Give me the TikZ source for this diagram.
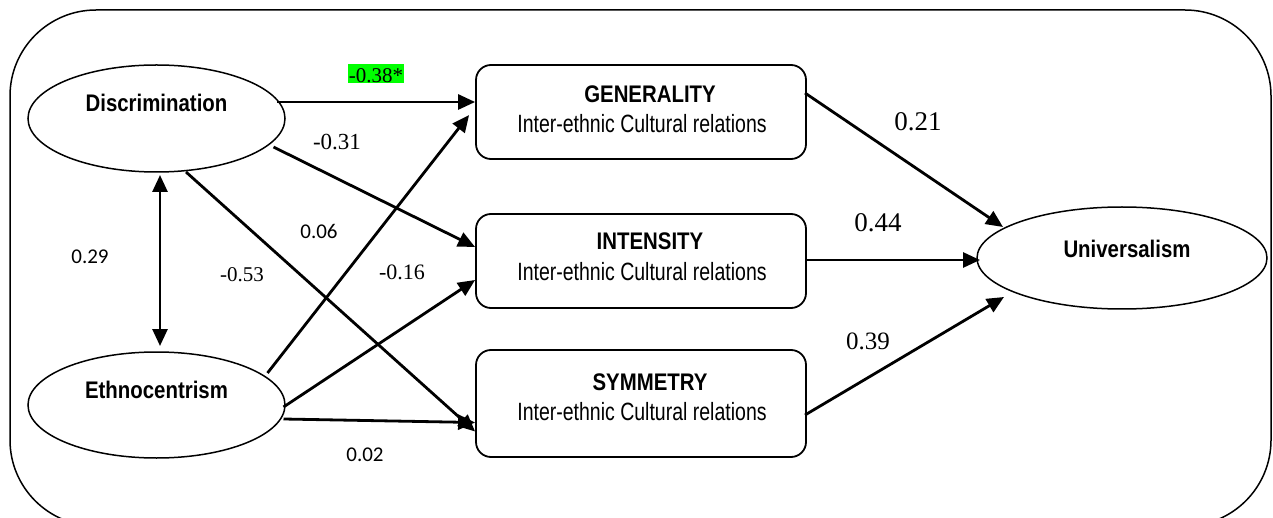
\documentclass[tikz,border=0pt]{standalone}
\usepackage{fontspec}
\setmainfont{Liberation Serif}
\newfontfamily\arfont[FakeStretch=0.78]{Liberation Sans}
\newfontfamily\arbfont[FakeStretch=0.85]{Liberation Sans}
\newfontfamily\calfont{Carlito}
\usetikzlibrary{arrows.meta,shapes.geometric,calc}
\definecolor{hl}{RGB}{0,255,0}
\tikzset{
  lat/.style={draw, ellipse, line width=1.5pt, inner sep=0pt},
  boxnode/.style={draw, rounded corners=15pt, line width=1.8pt, inner sep=0pt, minimum width=330pt},
  ttl/.style={font=\arbfont\bfseries\fontsize{24}{28}\selectfont, anchor=base, inner sep=0pt},
  sub/.style={font=\arfont\fontsize{25}{29}\selectfont, anchor=base, inner sep=0pt},
  pth/.style={line width=2.8pt, -{Triangle[length=17pt,width=15pt]}},
  dbl/.style={line width=2.8pt, {Triangle[length=17pt,width=15pt]}-{Triangle[length=17pt,width=15pt]}},
  serlab/.style={font=\fontsize{#1}{#1}\selectfont, inner sep=0pt},
  sanslab/.style={font=\calfont\fontsize{21}{21}\selectfont, inner sep=0pt},
}
\begin{document}
\begin{tikzpicture}[x=1pt,y=-1pt]
\useasboundingbox (0,0) rectangle (1273,518);
\clip (0,0) rectangle (1273,518);
% outer frame
\draw[line width=1.5pt, rounded corners=86pt] (10,10) rectangle (1271,526);

% latent variables
\node[lat, minimum width=257pt, minimum height=107pt] (disc) at (156.5,118.5) {};
\node[lat, minimum width=257pt, minimum height=106pt] (eth) at (156.5,405) {};
\node[lat, minimum width=290pt, minimum height=102pt] (uni) at (1122,258) {};
\node[ttl] (discT) at (156.5,112) {Discrimination};
\node[ttl] (ethT) at (156.5,398) {Ethnocentrism};
\node[ttl] (uniT) at (1127,258) {Universalism};

% boxes
\node[boxnode, minimum height=94pt] (gen) at (641,112) {};
\node[boxnode, minimum height=94pt] (int) at (641,261) {};
\node[boxnode, minimum height=107pt] (sym) at (641,403.5) {};
\node[ttl] (genT) at (650,103) {GENERALITY};
\node[sub] (genS) at (642,133) {Inter-ethnic Cultural relations};
\node[ttl] (intT) at (650,250) {INTENSITY};
\node[sub] (intS) at (642,281) {Inter-ethnic Cultural relations};
\node[ttl] (symT) at (650,390) {SYMMETRY};
\node[sub] (symS) at (642,420) {Inter-ethnic Cultural relations};

% paths from Discrimination
\draw[pth] ($(disc.center)+(120.5,-16.5)$) -- ($(gen.west)+(0,-10)$);
\draw[pth] ($(disc.center)+(117,28.5)$) -- ($(int.west)+(0,-14)$);
\draw[pth] ($(disc.center)+(29.5,53.5)$) -- ($(sym.west)+(0,28)$);
% paths from Ethnocentrism
\draw[pth] ($(eth.center)+(111,-32)$) -- ($(gen.west)+(-6,3)$);
\draw[pth] ($(eth.center)+(127,2)$) -- ($(int.west)+(0,19)$);
\draw[pth] ($(eth.center)+(127,14)$) -- ($(sym.west)+(0,19)$);
% correlation
\draw[dbl] ($(disc.center)+(3.5,56.5)$) -- ($(eth.center)+(3.5,-59)$);
% paths to Universalism
\draw[pth] ($(gen.center)+(164,-19)$) -- ($(uni.center)+(-119,-31)$);
\draw[pth] ($(int.center)+(165,-1)$) -- ($(uni.center)+(-142,2)$);
\draw[pth] ($(sym.center)+(164,11.5)$) -- ($(uni.center)+(-118,39)$);

% coefficients
\node[fill=hl, inner xsep=1pt, inner ysep=0pt, text height=19pt, text depth=0pt,
      font=\fontsize{21}{21}\selectfont, anchor=base] (l38) at (376,83) {-0.38*};
\node[serlab=23] (l31) at (337,142) {-0.31};
\node[sanslab] (l06) at (319,231) {0.06};
\node[sanslab] (l29) at (90,257) {0.29};
\node[serlab=21] (l53) at (242,275) {-0.53};
\node[serlab=22] (l16) at (402,272) {-0.16};
\node[sanslab] (l02) at (365,455) {0.02};
\node[serlab=27] (l21) at (918,122) {0.21};
\node[serlab=27] (l44) at (878,223) {0.44};
\node[serlab=25] (l39) at (868,341) {0.39};
\end{tikzpicture}
\end{document}
